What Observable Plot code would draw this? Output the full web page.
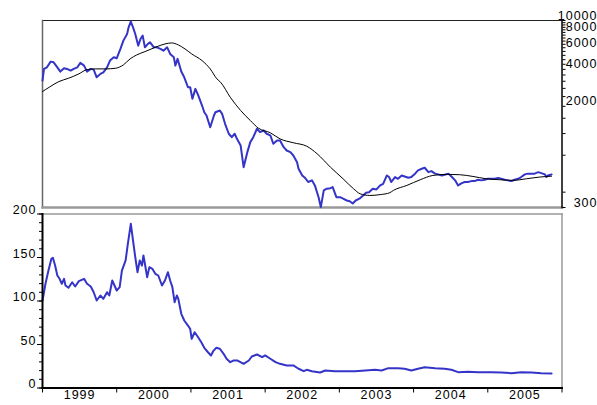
<!DOCTYPE html>
<html>
<head>
<meta charset="utf-8">
<script src="https://cdn.jsdelivr.net/npm/d3@7"></script>
<script src="https://cdn.jsdelivr.net/npm/@observablehq/plot@0.6"></script>
<style>
  body { margin: 0; background: white; }
  #chart { position: relative; width: 597px; height: 405px; background: white; }
  #chart svg { position: absolute; left: 0; }
</style>
</head>
<body>
<div id="chart"></div>
<script>
// ---- Top panel: index level (log scale, right axis) ----
const topDates = [1999.00,1999.02,1999.06,1999.11,1999.15,1999.20,1999.24,1999.29,1999.33,1999.38,1999.42,1999.47,1999.51,1999.56,1999.60,1999.65,1999.69,1999.73,1999.78,1999.82,1999.87,1999.91,1999.96,
2000.00,2000.05,2000.09,2000.14,2000.16,2000.19,2000.22,2000.25,2000.29,2000.32,2000.35,2000.38,2000.42,2000.45,2000.50,2000.54,2000.59,2000.63,2000.68,2000.72,2000.77,2000.79,2000.82,2000.87,2000.91,2000.96,2000.99,
2001.02,2001.06,2001.10,2001.15,2001.18,2001.21,2001.26,2001.31,2001.33,2001.39,2001.42,2001.46,2001.51,2001.55,2001.59,2001.62,2001.67,2001.71,2001.76,2001.80,2001.84,2001.89,2001.93,2001.98,
2002.02,2002.07,2002.11,2002.16,2002.20,2002.25,2002.29,2002.34,2002.38,2002.43,2002.45,2002.50,2002.54,2002.58,2002.63,2002.67,2002.72,2002.75,2002.79,2002.83,2002.88,2002.91,2002.96,
2003.01,2003.05,2003.10,2003.14,2003.18,2003.22,2003.27,2003.32,2003.36,2003.40,2003.45,2003.50,2003.55,2003.59,2003.64,2003.67,2003.70,2003.75,2003.79,2003.84,2003.88,2003.93,2003.97,
2004.02,2004.06,2004.11,2004.15,2004.20,2004.24,2004.29,2004.33,2004.38,2004.42,2004.47,2004.51,2004.56,2004.60,2004.65,2004.69,2004.73,2004.78,2004.82,2004.87,2004.91,2004.96,
2005.00,2005.05,2005.09,2005.14,2005.18,2005.23,2005.27,2005.32,2005.36,2005.41,2005.45,2005.50,2005.54,2005.59,2005.63,2005.68,2005.72,2005.77,2005.79,2005.81,2005.86];
const topIndex = [3243,4035,4157,4627,4566,4157,3837,4081,4035,3909,4035,4157,4516,4293,3837,4035,3982,3448,3676,3786,4157,4714,5015,
4921,5868,6855,7767,8794,9783,8794,7767,6242,7076,7527,6048,6444,6641,6048,6048,5868,5682,6048,5345,5015,4293,4868,3837,3448,2860,2860,
2302,2774,2448,2030,1790,1683,1352,1683,1790,1849,1738,1441,1196,1121,1196,1087,959,639,847,1022,1121,1313,1232,1271,
1196,1159,991,1055,1055,930,874,847,796,702,620,547,521,484,499,454,364,302,414,427,431,440,364,
364,354,342,337,323,342,354,376,396,400,427,421,454,468,547,531,484,531,514,547,537,524,531,
566,602,620,632,582,594,566,558,547,555,566,537,499,454,474,484,484,492,492,505,499,505,
514,514,514,521,514,505,499,492,505,514,531,558,566,566,566,582,572,558,531,547,558];

// moving average (black line)
const maDates = [1999.00,1999.09,1999.22,1999.35,1999.49,1999.60,1999.71,1999.85,1999.98,
2000.09,2000.18,2000.27,2000.38,2000.52,2000.65,2000.74,2000.83,2000.92,
2001.01,2001.15,2001.26,2001.35,2001.40,2001.53,2001.67,2001.80,2001.91,
2002.07,2002.20,2002.38,2002.56,2002.70,2002.88,
2003.05,2003.19,2003.28,2003.41,2003.55,2003.68,2003.73,2003.91,
2004.09,2004.26,2004.44,2004.62,2004.80,2004.98,
2005.16,2005.34,2005.52,2005.70,2005.86];
const maValues = [2639,2860,3181,3385,3676,3982,4035,4035,4081,
4350,4868,5245,5579,6048,6444,6566,6326,5868,
5345,4714,4035,3348,3140,2372,1849,1533,1327,
1218,1087,1010,947,822,639,
514,427,388,376,382,396,414,454,
505,547,558,555,537,514,
505,499,514,531,540];

const topTickLabels = [300, 2000, 4000, 6000, 8000, 10000];
const topMinorTicks = [300,400,800,1200,1600,2000,2400,2800,3200,3600,4000,4400,4800,5200,5600,6000,6400,6800,7200,7600,8000,8400,8800,9200,9600,10000];

// ---- Bottom panel ----
const botDates = [1999.00,1999.04,1999.08,1999.12,1999.14,1999.17,1999.20,1999.23,1999.26,1999.29,
1999.31,1999.35,1999.40,1999.44,1999.49,1999.56,1999.60,1999.65,1999.69,1999.73,
1999.78,1999.82,1999.87,1999.90,1999.94,1999.97,2000.00,2000.04,2000.07,2000.12,
2000.15,2000.19,2000.22,2000.25,2000.28,2000.31,2000.34,2000.36,2000.38,2000.41,
2000.44,2000.48,2000.52,2000.56,2000.61,2000.65,2000.69,2000.72,2000.75,2000.78,
2000.81,2000.83,2000.87,2000.91,2000.96,2000.99,2001.01,2001.05,2001.09,2001.14,
2001.18,2001.23,2001.27,2001.30,2001.34,2001.39,2001.44,2001.48,2001.53,2001.57,
2001.63,2001.71,2001.78,2001.82,2001.89,2001.96,2002.00,2002.07,2002.14,2002.20,
2002.29,2002.38,2002.45,2002.52,2002.56,2002.63,2002.74,2002.81,2002.94,2003.08,
2003.21,2003.35,2003.48,2003.57,2003.66,2003.79,2003.88,2003.97,2004.06,2004.15,
2004.29,2004.42,2004.51,2004.60,2004.73,2004.87,2005.05,2005.18,2005.32,2005.45,
2005.59,2005.72,2005.86];
const botValues = [100.6,119.8,135,148.5,149.7,140.8,129.3,125.5,119.8,125.5,
117.8,115.2,121.6,116.7,122.8,125.5,119.8,116.7,110.1,100.6,
106.3,102.5,110.1,106.3,123.6,117.8,112.1,115.9,135,146.6,
165.7,188.7,169.5,150.3,133.1,146.6,140.8,152.3,142.8,127.4,
138.9,137,131.3,129.3,117.8,123.6,133.1,123.6,115.9,98.6,
106.3,102.5,85.3,77.6,71.8,68,56.6,64.1,59.2,52.6,
46.2,41.1,37.4,42.3,46.2,45.1,39.3,33.6,29.7,31.6,
31.6,27.8,31.6,36.2,38.5,35.4,37.4,33.6,29.7,27.8,
25.9,25.9,22.1,19.3,20.9,19.3,17.8,20.1,19.3,19.3,
19.3,20.1,20.9,20.1,22.8,22.8,22.1,20.1,22.1,23.9,
22.8,22.1,20.9,18.2,18.6,18.2,18.2,17.8,17,18.2,
17.8,17,16.7];

const botTickLabels = [0, 50, 100, 150, 200];
const botMinorTicks = [0,10,20,30,40,50,60,70,80,90,100,110,120,130,140,150,160,170,180,190,200];
const yearTicks = [1999, 2000, 2001, 2002, 2003, 2004, 2005, 2006];
const yearLabels = [1999, 2000, 2001, 2002, 2003, 2004, 2005];

const BLUE = "#3434c8";
const FONT = "'Liberation Sans', Arial, sans-serif";
const svgStyle = "background: transparent; overflow: visible; font-family: " + FONT + "; letter-spacing: 1px;";

const topData = topDates.map((t, i) => ({t, v: topIndex[i]}));
const maData = maDates.map((t, i) => ({t, v: maValues[i]}));
const botData = botDates.map((t, i) => ({t, v: botValues[i]}));

const topPlot = Plot.plot({
  width: 597, height: 210,
  marginLeft: 42, marginRight: 35.5, marginTop: 20, marginBottom: 3,
  style: svgStyle,
  x: {domain: [1999, 2006], axis: null},
  y: {type: "log", domain: [300, 10000], axis: null},
  marks: [
    Plot.frame({anchor: "top", stroke: "#222", strokeWidth: 1}),
    Plot.frame({anchor: "left", stroke: "#666", strokeWidth: 1.5}),
    Plot.frame({anchor: "bottom", stroke: "#999", strokeWidth: 2.5}),
    Plot.line(topData, {x: "t", y: "v", stroke: BLUE, strokeWidth: 2}),
    Plot.line(maData, {x: "t", y: "v", stroke: "black", strokeWidth: 1, curve: "monotone-x"}),
    Plot.frame({anchor: "right", stroke: "black", strokeWidth: 1.5}),
    Plot.axisY({anchor: "right", ticks: topMinorTicks, tickSize: 3, tickFormat: () => "", label: null, stroke: "black"}),
    Plot.text(topTickLabels, {
      y: d => d, text: d => String(d), frameAnchor: "right",
      dx: 35.5, dy: -5, textAnchor: "end", fontSize: 12.5, fill: "black"
    })
  ]
});

const botPlot = Plot.plot({
  width: 597, height: 205,
  marginLeft: 42, marginRight: 35.5, marginTop: 13.5, marginBottom: 17.5,
  style: svgStyle,
  x: {domain: [1999, 2006], axis: null},
  y: {domain: [0, 200], axis: null},
  marks: [
    Plot.frame({anchor: "top", stroke: "#999", strokeWidth: 1.5}),
    Plot.frame({anchor: "right", stroke: "#999", strokeWidth: 1.5}),
    Plot.line(botData, {x: "t", y: "v", stroke: BLUE, strokeWidth: 2}),
    Plot.frame({anchor: "left", stroke: "black", strokeWidth: 2}),
    Plot.frame({anchor: "bottom", stroke: "black", strokeWidth: 2}),
    Plot.axisY({anchor: "left", ticks: botMinorTicks, tickSize: 3, tickFormat: () => "", label: null, stroke: "black"}),
    Plot.axisY({anchor: "left", ticks: botTickLabels, tickSize: 5, tickFormat: () => "", label: null, stroke: "black"}),
    Plot.text(botTickLabels, {
      y: d => d, text: d => String(d), frameAnchor: "left",
      dx: -6, dy: -4, textAnchor: "end", fontSize: 12.5, fill: "black"
    }),
    Plot.axisX({anchor: "bottom", ticks: yearTicks, tickSize: 5, tickFormat: () => "", label: null, stroke: "black"}),
    Plot.text(yearLabels, {
      x: d => d + 0.5, text: d => String(d), frameAnchor: "bottom",
      dy: 10.5, fontSize: 12.5, fill: "black"
    })
  ]
});

const chart = document.getElementById("chart");
topPlot.style.top = "0px";
botPlot.style.top = "200px";
chart.appendChild(topPlot);
chart.appendChild(botPlot);
</script>
</body>
</html>
